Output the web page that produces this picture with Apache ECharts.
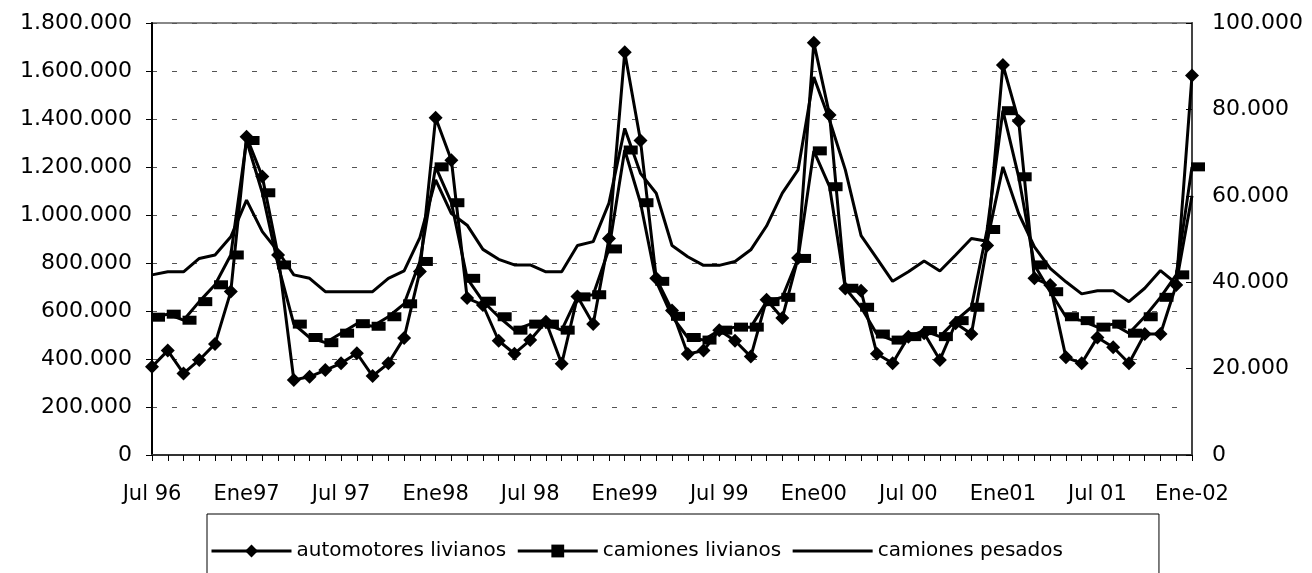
<!DOCTYPE html>
<html>
<head>
<meta charset="utf-8">
<script src="https://cdn.jsdelivr.net/npm/echarts@6.0.0/dist/echarts.min.js"></script>
<style>
  html, body { margin: 0; padding: 0; background: #fff; }
  #chart { width: 1312px; height: 573px; }
</style>
</head>
<body>
<div id="chart"></div>
<script>
// meses jul 96 .. ene 02
const months = [
  "Jul 96", "Ago 96", "Sep 96", "Oct 96", "Nov 96", "Dic 96",
  "Ene97", "Feb 97", "Mar 97", "Abr 97", "May 97", "Jun 97",
  "Jul 97", "Ago 97", "Sep 97", "Oct 97", "Nov 97", "Dic 97",
  "Ene98", "Feb 98", "Mar 98", "Abr 98", "May 98", "Jun 98",
  "Jul 98", "Ago 98", "Sep 98", "Oct 98", "Nov 98", "Dic 98",
  "Ene99", "Feb 99", "Mar 99", "Abr 99", "May 99", "Jun 99",
  "Jul 99", "Ago 99", "Sep 99", "Oct 99", "Nov 99", "Dic 99",
  "Ene00", "Feb 00", "Mar 00", "Abr 00", "May 00", "Jun 00",
  "Jul 00", "Ago 00", "Sep 00", "Oct 00", "Nov 00", "Dic 00",
  "Ene01", "Feb 01", "Mar 01", "Abr 01", "May 01", "Jun 01",
  "Jul 01", "Ago 01", "Sep 01", "Oct 01", "Nov 01", "Dic 01",
  "Ene-02"
];
// etiquetas visibles, una cada 6 meses
const tickLabels = ["Jul 96", "Ene97", "Jul 97", "Ene98", "Jul 98", "Ene99",
  "Jul 99", "Ene00", "Jul 00", "Ene01", "Jul 01", "Ene-02"];

// eje izquierdo
const automotoresLivianos = [
  368000, 435000, 340000, 396000, 463000, 681000,
  1326000, 1160000, 833000, 313000, 326000, 354000,
  382000, 424000, 329000, 382000, 488000, 765000,
  1405000, 1228000, 654000, 625000, 476000, 422000,
  479000, 555000, 380000, 660000, 546000, 902000,
  1678000, 1310000, 736000, 602000, 421000, 435000,
  520000, 476000, 410000, 647000, 571000, 821000,
  1718000, 1417000, 694000, 684000, 422000, 382000,
  493000, 507000, 396000, 549000, 504000, 873000,
  1625000, 1392000, 736000, 708000, 407000, 382000,
  490000, 449000, 382000, 504000, 504000, 708000,
  1581000
];
// eje derecho
const camionesLivianos = [
  31900, 32600, 31200, 35500, 39400, 46300,
  72800, 60700, 44000, 30300, 27200, 26000,
  28200, 30400, 29800, 32000, 35000, 44800,
  66700, 58400, 40900, 35600, 32000, 28900,
  30300, 30300, 28900, 36600, 37100, 47700,
  70600, 58400, 40200, 32100, 27200, 26600,
  28900, 29600, 29600, 35500, 36500, 45500,
  70400, 62100, 38600, 34200, 28000, 26600,
  27400, 28800, 27400, 31100, 34200, 52200,
  79700, 64400, 44000, 37800, 32000, 31100,
  29600, 30300, 28200, 32000, 36500, 41700,
  66700
];
const camionesPesados = [
  41700, 42400, 42400, 45500, 46300, 50500,
  59000, 51700, 47100, 41700, 40900, 37800,
  37800, 37800, 37800, 40900, 42600, 50300,
  63700, 55900, 53200, 47600, 45300, 44000,
  44000, 42400, 42400, 48500, 49400, 58300,
  75600, 65200, 60600, 48500, 45900, 43900,
  43900, 44800, 47500, 53000, 60600, 66000,
  87500, 77500, 66000, 50800, 45500, 40200,
  42400, 44900, 42600, 46300, 50100, 49500,
  66700, 55900, 48200, 43200, 40100, 37300,
  38000, 38000, 35500, 38600, 42700, 39700,
  60000
];

const fontFamily = "DejaVu Sans";

function miles(v) {
  return String(v).replace(/\B(?=(\d{3})+(?!\d))/g, ".");
}

const chart = echarts.init(document.getElementById("chart"), null, { renderer: "canvas" });

const option = {
  animation: false,
  backgroundColor: "#fff",
  textStyle: { fontFamily: fontFamily, color: "#000" },
  grid: {
    left: 152,
    right: 120,
    top: 23,
    bottom: 118,
    show: true,
    borderColor: "#888",
    borderWidth: 2,
  },
  legend: {
    data: [
      { name: "automotores livianos" },
      { name: "camiones livianos" },
      { name: "camiones pesados", itemStyle: { opacity: 0 } },
    ],
    left: 207,
    top: 514,
    padding: [27, 96, 27, 3],
    borderColor: "#000",
    borderWidth: 1,
    itemWidth: 80,
    itemHeight: 16,
    itemGap: 10,
    lineStyle: { width: 3, color: "#000" },
    textStyle: { fontFamily: fontFamily, fontSize: 20, color: "#000" },
  },
  xAxis: {
    type: "category",
    data: months,
    boundaryGap: false,
    axisLine: { lineStyle: { color: "#333", width: 2 } },
    axisTick: { show: true, interval: 0, length: 6, inside: false, lineStyle: { color: "#000" } },
    axisLabel: {
      interval: 5,
      margin: 29,
      fontSize: 21,
      color: "#000",
      fontFamily: fontFamily,
      formatter: function (val, idx) {
        return tickLabels[idx / 6] || "";
      },
    },
    splitLine: { show: false },
  },
  yAxis: [
    {
      type: "value",
      min: 0,
      max: 1800000,
      interval: 200000,
      axisLine: { show: true, lineStyle: { color: "#000", width: 2 } },
      axisTick: { show: true, length: 6, lineStyle: { color: "#000" } },
      axisLabel: {
        margin: 20,
        fontSize: 22,
        color: "#000",
        fontFamily: fontFamily,
        formatter: miles,
      },
      splitLine: {
        show: true,
        lineStyle: { color: "#555", width: 1, type: [5, 15] },
      },
    },
    {
      type: "value",
      min: 0,
      max: 100000,
      interval: 20000,
      position: "right",
      axisLine: { show: true, lineStyle: { color: "#444", width: 2 } },
      axisTick: { show: true, length: 6, inside: true, lineStyle: { color: "#000" } },
      axisLabel: {
        margin: 20,
        fontSize: 22,
        color: "#000",
        fontFamily: fontFamily,
        formatter: miles,
      },
      splitLine: { show: false },
    },
  ],
  series: [
    {
      name: "camiones pesados",
      type: "line",
      yAxisIndex: 1,
      data: camionesPesados,
      symbol: "none",
      lineStyle: { color: "#000", width: 3 },
      itemStyle: { color: "#000" },
      z: 2,
    },
    {
      name: "camiones livianos",
      type: "line",
      yAxisIndex: 1,
      data: camionesLivianos,
      symbol: "rect",
      symbolSize: [14, 9],
      symbolOffset: [6, 0],
      showAllSymbol: true,
      lineStyle: { color: "#000", width: 3 },
      itemStyle: { color: "#000" },
      z: 3,
    },
    {
      name: "automotores livianos",
      type: "line",
      yAxisIndex: 0,
      data: automotoresLivianos,
      symbol: "diamond",
      symbolSize: 14,
      showAllSymbol: true,
      lineStyle: { color: "#000", width: 3 },
      itemStyle: { color: "#000" },
      z: 4,
    },
  ],
};

chart.setOption(option);
</script>
</body>
</html>
